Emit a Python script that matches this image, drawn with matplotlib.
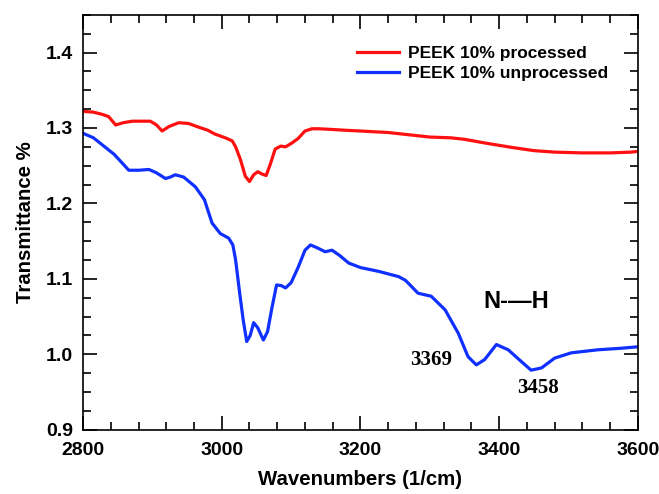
import numpy as np
import matplotlib.pyplot as plt
from matplotlib.ticker import MultipleLocator

# red: processed
wn_proc = [2800, 2815, 2828, 2837, 2847, 2858, 2871, 2885, 2897, 2906, 2914, 2924, 2938, 2952,
           2967, 2980, 2990, 3005, 3015, 3020, 3027, 3034, 3040, 3046, 3052, 3058, 3064, 3070,
           3077, 3085, 3092, 3101, 3110, 3120, 3130, 3140, 3160, 3178, 3200, 3240, 3270, 3300,
           3330, 3350, 3380, 3420, 3450, 3480, 3520, 3560, 3590, 3600]
tr_proc = [1.322, 1.321, 1.318, 1.315, 1.304, 1.307, 1.309, 1.309, 1.309, 1.304, 1.296, 1.302,
           1.307, 1.306, 1.301, 1.297, 1.292, 1.287, 1.283, 1.275, 1.258, 1.236, 1.229, 1.238,
           1.242, 1.239, 1.237, 1.252, 1.272, 1.276, 1.275, 1.280, 1.286, 1.296, 1.299, 1.299,
           1.298, 1.297, 1.296, 1.294, 1.291, 1.288, 1.287, 1.285, 1.280, 1.274, 1.270, 1.268,
           1.267, 1.267, 1.268, 1.269]

# blue: unprocessed
wn_unproc = [2800, 2815, 2830, 2845, 2855, 2866, 2880, 2895, 2905, 2919, 2926, 2933, 2945,
             2962, 2975, 2986, 2998, 3010, 3016, 3020, 3026, 3031, 3036, 3041, 3046, 3052,
             3060, 3066, 3072, 3079, 3086, 3092, 3100, 3110, 3120, 3128, 3138, 3149, 3159,
             3170, 3183, 3200, 3226, 3255, 3265, 3283, 3302, 3322, 3341, 3355, 3367, 3379,
             3396, 3413, 3430, 3446, 3461, 3480, 3504, 3542, 3575, 3600]
tr_unproc = [1.293, 1.287, 1.276, 1.265, 1.255, 1.244, 1.244, 1.245, 1.241, 1.233, 1.235, 1.238,
             1.235, 1.222, 1.205, 1.174, 1.160, 1.154, 1.145, 1.125, 1.080, 1.045, 1.017, 1.025,
             1.042, 1.035, 1.019, 1.030, 1.060, 1.092, 1.091, 1.088, 1.095, 1.115, 1.138, 1.145,
             1.141, 1.136, 1.138, 1.131, 1.121, 1.115, 1.110, 1.103, 1.098, 1.081, 1.077, 1.059,
             1.028, 0.997, 0.986, 0.993, 1.013, 1.006, 0.992, 0.979, 0.982, 0.995, 1.002, 1.006,
             1.008, 1.010]

plt.rcParams['font.family'] = ['Liberation Sans', 'DejaVu Sans']
plt.rcParams['font.weight'] = 'bold'

fig = plt.figure(figsize=(6.59, 4.94), dpi=100)
ax = fig.add_axes([0.126, 0.130, 0.842, 0.840])

ax.plot(wn_proc, tr_proc, color='#ff1010', lw=2.3, label='PEEK 10% processed')
ax.plot(wn_unproc, tr_unproc, color='#1030ff', lw=2.3, label='PEEK 10% unprocessed')

ax.set_xlim(2800, 3600)
ax.set_ylim(0.9, 1.45)
ax.xaxis.set_major_locator(MultipleLocator(200))
ax.xaxis.set_minor_locator(MultipleLocator(40))
ax.yaxis.set_major_locator(MultipleLocator(0.1))
ax.yaxis.set_minor_locator(MultipleLocator(0.025))
ax.tick_params(which='both', direction='in', top=True, right=True, width=1.2, labelsize=14)
ax.tick_params(which='major', length=10)
ax.tick_params(which='minor', length=6)
ax.tick_params(axis='y', pad=7)
ax.tick_params(axis='x', pad=9)
ax.yaxis.set_major_formatter(plt.FormatStrFormatter('%.1f'))
for s in ax.spines.values():
    s.set_linewidth(1.2)

ax.set_xlabel('Wavenumbers (1/cm)', fontsize=14.7, fontweight='bold', labelpad=8)
ax.set_ylabel('Transmittance %', fontsize=14.7, fontweight='bold', labelpad=8)

leg = ax.legend(loc='upper right', frameon=False, fontsize=12.5, handlelength=2.4,
                handletextpad=0.55, labelspacing=0.3, borderpad=0.4,
                bbox_to_anchor=(0.975, 0.963))

ax.text(3425, 1.07, 'N-\u2014H', fontsize=17, fontweight='bold', ha='center', va='center')
ax.text(3302, 0.993, '3369', fontsize=15, fontweight='bold', family='Liberation Serif',
        ha='center', va='center')
ax.text(3456, 0.956, '3458', fontsize=15, fontweight='bold', family='Liberation Serif',
        ha='center', va='center')

plt.savefig('out.png', dpi=100)
